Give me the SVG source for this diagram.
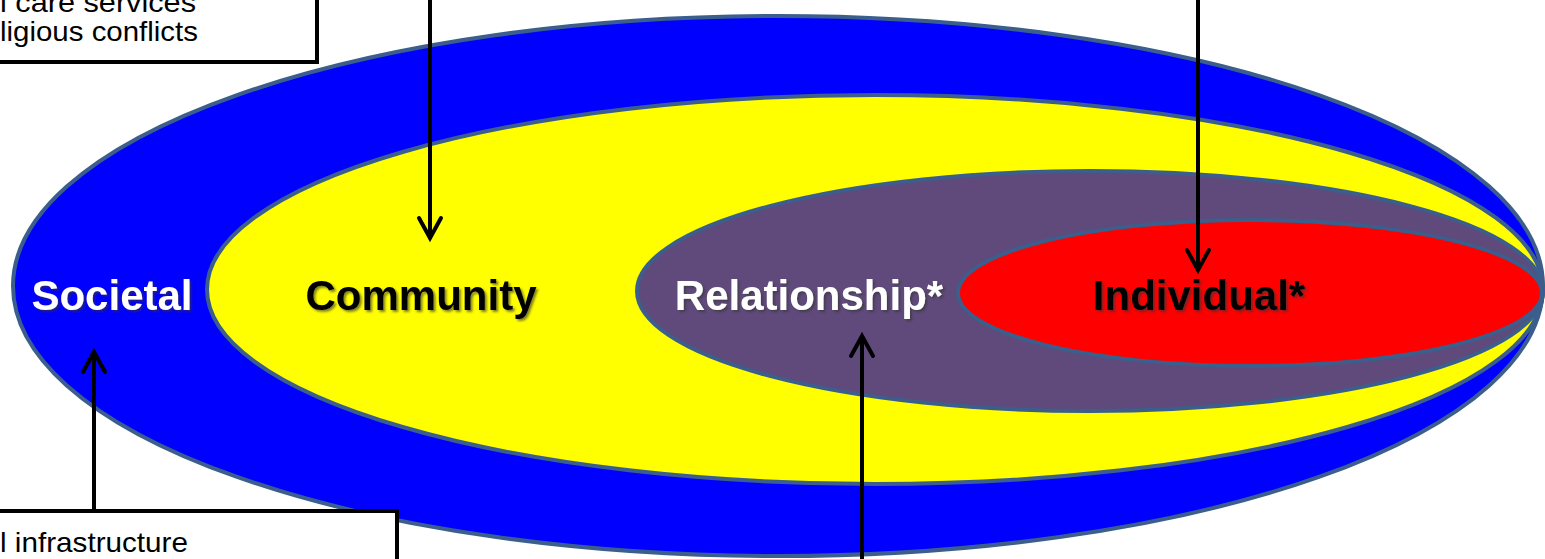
<svg xmlns="http://www.w3.org/2000/svg" width="1545" height="559" viewBox="0 0 1545 559">
<style>
.ring{stroke:#3B5E8C;stroke-width:4}
.lbl{font-family:"Liberation Sans",Arial,sans-serif;font-weight:bold;font-size:42px;text-anchor:middle}
.box{fill:#fff;stroke:#000;stroke-width:4}
.btxt{font-family:"Liberation Sans",Arial,sans-serif;font-size:28px;fill:#000}
.conn{stroke:#000;stroke-width:4;fill:none}
</style>
<defs>
<filter id="sh" x="-10%" y="-20%" width="130%" height="160%">
<feDropShadow dx="2" dy="2" stdDeviation="1.2" flood-color="#333" flood-opacity="0.6"/>
</filter>
<marker id="ah" viewBox="-25 -15 30 30" refX="0" refY="0" markerWidth="30" markerHeight="30" markerUnits="userSpaceOnUse" orient="auto" overflow="visible">
<path d="M-20,-11 L0,0 L-20,11" fill="none" stroke="#000" stroke-width="4" stroke-linecap="round" stroke-linejoin="miter"/>
</marker>
</defs>
<g id="societal">
<ellipse class="ring" cx="778" cy="286" rx="765" ry="270" fill="#0000FF"/>
<text class="lbl" x="112" y="310" fill="#fff" filter="url(#sh)">Societal</text>
</g>
<g id="community">
<ellipse class="ring" cx="875" cy="289.5" rx="668" ry="194.5" fill="#FFFF00"/>
<text class="lbl" x="421" y="310" fill="#000" filter="url(#sh)">Community</text>
</g>
<g id="relationship">
<ellipse class="ring" cx="1090" cy="291" rx="453" ry="120" fill="#604A7B"/>
<text class="lbl" x="809" y="310" fill="#fff" filter="url(#sh)">Relationship*</text>
</g>
<g id="individual">
<ellipse class="ring" cx="1250" cy="293" rx="292" ry="73" fill="#FF0000"/>
<text class="lbl" x="1199" y="310" fill="#000" filter="url(#sh)">Individual*</text>
</g>
<g id="box-top">
<rect class="box" x="-20" y="-20" width="337" height="82"/>
<text class="btxt" x="0" y="12" textLength="196" lengthAdjust="spacingAndGlyphs">l care services</text>
<text class="btxt" x="0" y="41" textLength="198" lengthAdjust="spacingAndGlyphs">ligious conflicts</text>
</g>
<g id="box-bottom">
<rect class="box" x="-20" y="511" width="417" height="80"/>
<text class="btxt" x="0" y="552" textLength="188" lengthAdjust="spacingAndGlyphs">l infrastructure</text>
</g>
<g id="connectors">
<line class="conn" x1="430" y1="-5" x2="430" y2="238" marker-end="url(#ah)"/>
<line class="conn" x1="1198" y1="-5" x2="1198" y2="270" marker-end="url(#ah)"/>
<line class="conn" x1="862" y1="565" x2="862" y2="336" marker-end="url(#ah)"/>
<line class="conn" x1="94" y1="511" x2="94" y2="352" marker-end="url(#ah)"/>
</g>
</svg>
